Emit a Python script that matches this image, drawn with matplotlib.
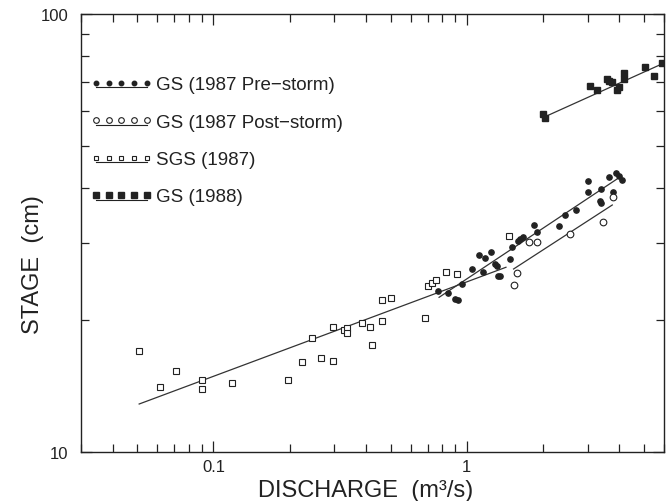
import numpy as np
import matplotlib
matplotlib.use("Agg")
import matplotlib.pyplot as plt
from matplotlib.lines import Line2D
from matplotlib.legend_handler import HandlerBase
from matplotlib.ticker import LogLocator, NullFormatter

# GS 1987 pre-storm (filled circles)
pre_q = [0.772, 0.846, 0.899, 0.924, 0.955, 1.045, 1.121, 1.181, 1.242, 1.153,
         1.288, 1.310, 1.330, 1.348, 1.481, 1.507, 1.586, 1.615, 1.667, 1.835,
         1.889, 2.304, 2.442, 2.700, 3.001, 3.012, 3.370, 3.340, 3.379, 3.624,
         3.758, 3.888, 3.996, 4.081]
pre_h = [23.28, 23.03, 22.35, 22.27, 24.19, 26.21, 28.18, 27.70, 28.67, 25.76,
         26.87, 26.55, 25.27, 25.20, 27.58, 29.34, 30.32, 30.69, 30.89, 32.98,
         31.84, 32.75, 34.76, 35.69, 41.50, 39.27, 39.85, 37.47, 36.98, 42.38,
         39.16, 43.35, 42.67, 41.83]

# GS 1987 post-storm (open circles)
post_q = [1.529, 1.577, 1.752, 1.897, 2.557, 3.462, 3.758]
post_h = [24.06, 25.59, 30.09, 30.21, 31.51, 33.56, 38.15]

# SGS 1987 (open squares)
sgs_q = [0.0509, 0.0615, 0.0709, 0.0899, 0.0899, 0.1181, 0.1968, 0.2244, 0.2449,
         0.2658, 0.2965, 0.2965, 0.3269, 0.3376, 0.3376, 0.3862, 0.4143, 0.4238,
         0.4634, 0.4634, 0.5002, 0.682, 0.6995, 0.729, 0.758, 0.826, 0.913, 1.461]
sgs_h = [17.03, 14.05, 15.28, 14.58, 13.95, 14.37, 14.60, 16.05, 18.18,
         16.36, 19.32, 16.13, 18.99, 19.16, 18.66, 19.68, 19.26, 17.55,
         19.88, 22.23, 22.43, 20.23, 23.93, 24.31, 24.76, 25.80, 25.45, 31.18]

# GS 1988 (filled squares)
g88_q = [2.004, 2.041, 3.076, 3.264, 3.558, 3.647, 3.735, 3.898, 3.996, 4.167,
         4.167, 5.030, 5.461, 5.900]
g88_h = [59.12, 58.03, 68.47, 67.17, 71.05, 70.31, 69.94, 67.14, 68.06, 73.24,
         71.16, 75.55, 72.05, 77.20]

# rating curve end points
pre_fit_q, pre_fit_h = [0.777, 4.007], [22.55, 42.38]
post_fit_q, post_fit_h = [1.529, 3.75], [26.17, 36.64]
sgs_fit_q, sgs_fit_h = [0.0509, 1.427], [12.87, 26.41]
g88_fit_q, g88_fit_h = [2.022, 5.943], [58.18, 77.09]

labels = ["GS (1987 Pre\u2212storm)", "GS (1987 Post\u2212storm)",
          "SGS (1987)", "GS (1988)"]

ink = "#222222"


class DotsOverLine(HandlerBase):
    # five small markers with a thin line underneath, like the original key
    def create_artists(self, legend, orig_handle, xdescent, ydescent,
                       width, height, fontsize, trans):
        xs = np.linspace(-xdescent, width - xdescent, 5)
        yc = height / 2 - ydescent
        marks = Line2D(xs, np.full(5, yc))
        marks.update_from(orig_handle)
        marks.set_linestyle("none")
        marks.set_markersize(orig_handle.get_markersize() * 0.85)
        marks.set_transform(trans)
        under = Line2D([xs[0], xs[-1]], [yc - 0.36 * height] * 2,
                       color=ink, lw=0.8)
        under.set_transform(trans)
        return [marks, under]


plt.rcParams["font.family"] = ["Liberation Sans", "DejaVu Sans"]

fig = plt.figure(figsize=(6.69, 5.02), dpi=100)
ax = fig.add_axes([81 / 669, 49 / 502, 583 / 669, 438 / 502])
ax.set_xscale("log")
ax.set_yscale("log")

fitkw = dict(color="#333333", lw=0.9)
ax.plot(sgs_fit_q, sgs_fit_h, **fitkw)
ax.plot(pre_fit_q, pre_fit_h, **fitkw)
ax.plot(post_fit_q, post_fit_h, **fitkw)
ax.plot(g88_fit_q, g88_fit_h, **fitkw)

h1, = ax.plot(pre_q, pre_h, ls="none", marker="o", ms=3.8, mfc=ink, mec=ink)
h2, = ax.plot(post_q, post_h, ls="none", marker="o", ms=4.8, mfc="white",
              mec=ink, mew=0.8)
h3, = ax.plot(sgs_q, sgs_h, ls="none", marker="s", ms=4.2, mfc="white",
              mec=ink, mew=0.8)
h4, = ax.plot(g88_q, g88_h, ls="none", marker="s", ms=4.6, mfc=ink, mec=ink)

ax.set_xlim(0.03, 6)
ax.set_ylim(10, 100)

ax.set_xticks([0.1, 1], labels=["0.1", "1"])
ax.set_yticks([10, 100], labels=["10", "100"])
ax.xaxis.set_minor_locator(LogLocator(base=10, subs=np.arange(2, 10)))
ax.yaxis.set_minor_locator(LogLocator(base=10, subs=np.arange(2, 10)))
ax.xaxis.set_minor_formatter(NullFormatter())
ax.yaxis.set_minor_formatter(NullFormatter())
ax.tick_params(which="both", direction="in", top=True, right=True,
               color=ink, width=0.9, labelsize=12, labelcolor=ink)
ax.tick_params(which="major", length=8)
ax.tick_params(which="minor", length=6)
ax.tick_params(axis="x", pad=5)
ax.tick_params(axis="y", pad=9)
for s in ax.spines.values():
    s.set_color(ink)
    s.set_linewidth(1.0)

ax.set_xlabel("DISCHARGE  (m\u00b3/s)", fontsize=17, color=ink)
ax.set_ylabel("STAGE  (cm)", fontsize=17, color=ink)
ax.xaxis.label.set_va("center")
ax.yaxis.label.set_va("center")
ax.xaxis.set_label_coords(0.489, -0.087)
ax.yaxis.set_label_coords(-0.082, 0.43)

ax.legend([h1, h2, h3, h4], labels, loc="upper left",
          bbox_to_anchor=(0.0257, 0.858), borderaxespad=0, borderpad=0,
          frameon=False, fontsize=13.5, handlelength=2.7, handletextpad=0.52,
          labelspacing=1.08, handler_map={Line2D: DotsOverLine()},
          labelcolor=ink)

fig.savefig("out.png", dpi=100, facecolor="white")
